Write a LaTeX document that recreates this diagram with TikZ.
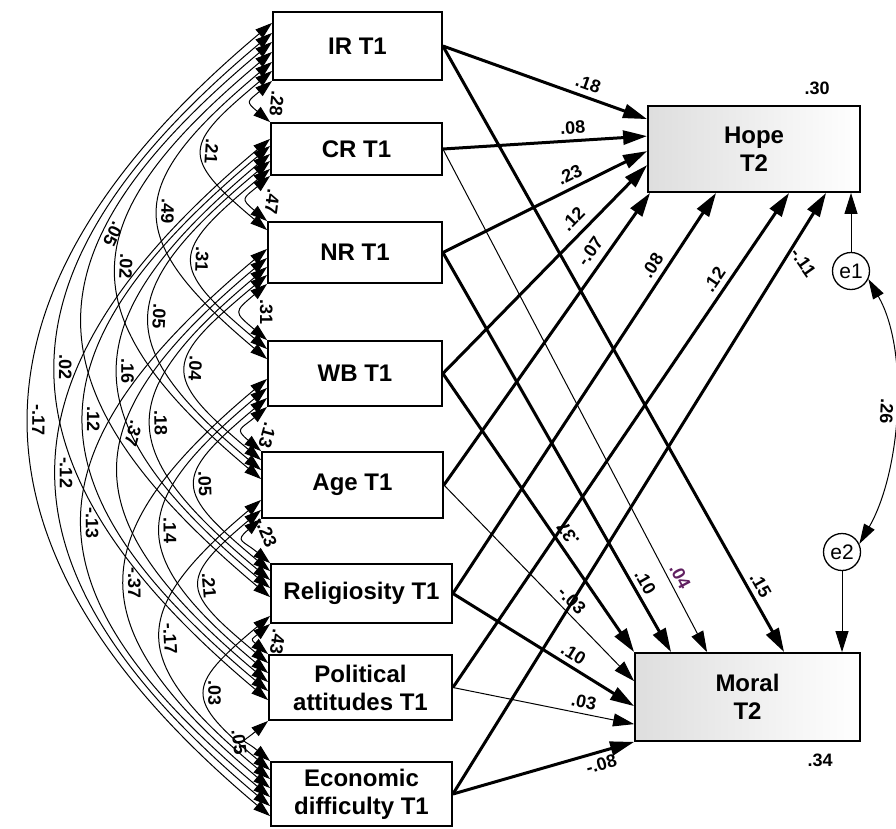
\documentclass[tikz,border=0pt]{standalone}
\usepackage{fontspec}
\setmainfont{Liberation Sans}
\usetikzlibrary{arrows.meta}
\definecolor{plum}{RGB}{96,32,96}

\begin{document}
\begin{tikzpicture}[x=1pt, y=1pt,
  pred/.style={draw=black, line width=1.8pt, fill=white, align=center, inner sep=0pt,
    font=\fontsize{24}{28}\selectfont\bfseries},
  outc/.style={pred, left color=black!13, right color=white},
  err/.style={circle, draw=black, line width=1.3pt, minimum size=37pt, inner sep=0pt,
    font=\fontsize{21}{21}\selectfont},
  reg/.style={line width=3pt, -{Triangle[length=24pt,width=14pt]}},
  regthin/.style={line width=1pt, -{Triangle[length=21pt,width=13pt]}},
  cov/.style={line width=1pt, {Triangle[length=17pt,width=11pt]}-{Triangle[length=17pt,width=11pt]}},
  covbig/.style={line width=1pt, {Triangle[length=20pt,width=12pt]}-{Triangle[length=20pt,width=12pt]}},
  bow/.style={out=220, in=140, looseness=#1},
  lab/.style={font=\fontsize{18}{20}\selectfont\bfseries, inner sep=1.5pt},
  covlab/.style={lab, midway, sloped, allow upside down, above}]
\useasboundingbox (0,0) rectangle (896,-828);

% predictors, T1
\node[pred, minimum width=169pt, minimum height=68pt] (ir) at (357.5,-46) {IR T1};
\node[pred, minimum width=171pt, minimum height=52pt] (cr) at (356.5,-149) {CR T1};
\node[pred, minimum width=174pt, minimum height=61pt] (nr) at (355,-252.5) {NR T1};
\node[pred, minimum width=174pt, minimum height=65pt] (wb) at (355,-373.5) {WB T1};
\node[pred, minimum width=181pt, minimum height=66pt] (age) at (352.5,-485) {Age T1};
\node[pred, minimum width=181pt, minimum height=59pt] (rel) at (361.5,-593.5) {Religiosity T1};
\node[pred, minimum width=183pt, minimum height=65pt] (pol) at (360.5,-687.5) {Political\\attitudes T1};
\node[pred, minimum width=181pt, minimum height=64pt] (econ) at (361.5,-794) {Economic\\difficulty T1};

% outcomes, T2
\node[outc, minimum width=212pt, minimum height=86pt] (hope) at (754,-149) {Hope\\T2};
\node[outc, minimum width=225pt, minimum height=88pt] (moral) at (747.5,-697) {Moral\\T2};
\node[lab] (r2hope) at (817,-88) {.30};
\node[lab] (r2moral) at (820,-760) {.34};

% residuals
\node[err] (e1) at (851,-271) {e1};
\node[err] (e2) at (842,-552) {e2};
\draw[regthin] (e1) -- (e1 |- hope.south);
\draw[regthin] (e2) -- (e2 |- moral.north);
\draw[covbig] (e1.-25) to[out=-60, in=60, looseness=.8]
  node[lab, midway, sloped, allow upside down, below] {.26} (e2.25);

% paths to Hope
\draw[reg] (ir.east) -- ([yshift=-14pt]hope.north west) node[lab, pos=.69, sloped, above=4pt] {.18};
\draw[reg] (cr.east) -- ([yshift=-31pt]hope.north west) node[lab, pos=.64, sloped, above=4pt] {.08};
\draw[reg] (nr.east) -- ([yshift=-46pt]hope.north west) node[lab, pos=.65, sloped, above=4pt] {.23};
\draw[reg] (wb.east) -- ([yshift=-60pt]hope.north west) node[lab, pos=.69, sloped, above=6pt] {.12};
\draw[reg] (age.east) -- ([xshift=3pt]hope.south west) node[lab, pos=.77, sloped, above=6pt] {-.07};
\draw[reg] (rel.east) -- ([xshift=69pt]hope.south west) node[lab, pos=.80, sloped, above=4pt] {.08};
\draw[reg] (pol.east) -- ([xshift=142pt]hope.south west) node[lab, pos=.81, sloped, above=4pt] {.12};
\draw[reg] (econ.east) -- ([xshift=179pt]hope.south west) node[lab, pos=.91, rotate=-55, right=1pt] {-.11};

% paths to Moral
\draw[reg] (ir.east) -- ([xshift=150pt]moral.north west) node[lab, pos=.9, sloped, above=3pt] {.15};
\draw[regthin] (cr.east) -- ([xshift=73pt]moral.north west) node[lab, pos=.86, sloped, above=3pt, text=plum] {.04};
\draw[reg] (nr.east) -- ([xshift=37pt]moral.north west) node[lab, pos=.84, sloped, above=3pt] {.10};
\draw[reg] (wb.east) -- (moral.north west) node[lab, pos=.6, sloped, allow upside down, rotate=180, below=3pt] {.37};
\draw[regthin] (age.east) -- ([yshift=-29pt]moral.north west) node[lab, pos=.63, sloped, above=3pt] {-.03};
\draw[reg] (rel.east) -- ([yshift=-54pt]moral.north west) node[lab, pos=.63, sloped, above=3pt] {.10};
\draw[regthin] (pol.east) -- ([yshift=-72pt]moral.north west) node[lab, pos=.71, sloped, above=3pt] {.03};
\draw[reg] (econ.east) -- (moral.south west) node[lab, pos=.8, sloped, below=3pt] {-.08};

% covariances among predictors
\draw[cov] (ir.south west) to[bow=2] node[covlab, above=16pt] {.28} (cr.north west);
\draw[cov] (cr.south west) to[bow=2] node[covlab, above=16pt] {.47} (nr.north west);
\draw[cov] (nr.south west) to[bow=2] node[covlab, above=16pt] {.31} (wb.north west);
\draw[cov] (wb.south west) to[bow=2] node[covlab, above=16pt] {.13} (age.north west);
\draw[cov] (age.south west) to[bow=2] node[covlab, above=14pt] {-.23} (rel.north west);
\draw[cov] (rel.south west) to[bow=2] node[covlab, above=14pt] {.43} (pol.north west);
\draw[cov] (pol.south west) to[bow=2.4] node[covlab, below] {.05} (econ.north west);

\draw[cov] ([yshift=10pt]ir.south west) to[bow=1.85] node[covlab] {.21} ([yshift=-9pt]nr.north west);
\draw[cov] ([yshift=7pt]cr.south west) to[bow=1.85] node[covlab] {.31} ([yshift=-9pt]wb.north west);
\draw[cov] ([yshift=9pt]nr.south west) to[bow=1.85] node[covlab] {.04} ([yshift=-9pt]age.north west);
\draw[cov] ([yshift=9pt]wb.south west) to[bow=1.85] node[covlab] {.05} ([yshift=-8pt]rel.north west);
\draw[cov] ([yshift=9pt]age.south west) to[bow=1.85] node[covlab] {.21} ([yshift=-9pt]pol.north west);
\draw[cov] ([yshift=8pt]rel.south west) to[bow=1.85] node[covlab] {.03} ([yshift=-9pt]econ.north west);

\draw[cov] ([yshift=19pt]ir.south west) to[bow=1.65] node[covlab] {.49} ([yshift=-19pt]wb.north west);
\draw[cov] ([yshift=15pt]cr.south west) to[bow=1.65] node[covlab] {.05} ([yshift=-19pt]age.north west);
\draw[cov] ([yshift=17pt]nr.south west) to[bow=1.65] node[covlab] {.18} ([yshift=-17pt]rel.north west);
\draw[cov] ([yshift=19pt]wb.south west) to[bow=1.65] node[covlab] {.14} ([yshift=-19pt]pol.north west);
\draw[cov] ([yshift=19pt]age.south west) to[bow=1.65] node[covlab] {-.17} ([yshift=-18pt]econ.north west);

\draw[cov] ([yshift=29pt]ir.south west) to[bow=1.55] node[covlab] {.02} ([yshift=-28pt]age.north west);
\draw[cov] ([yshift=22pt]cr.south west) to[bow=1.55] node[covlab] {.16} ([yshift=-25pt]rel.north west);
\draw[cov] ([yshift=26pt]nr.south west) to[bow=1.55] node[covlab, pos=.4] {.37} ([yshift=-28pt]pol.north west);
\draw[cov] ([yshift=28pt]wb.south west) to[bow=1.55] node[covlab] {-.37} ([yshift=-27pt]econ.north west);

\draw[cov] ([yshift=39pt]ir.south west) to[bow=1.5] node[covlab, pos=.33] {.05} ([yshift=-34pt]rel.north west);
\draw[cov] ([yshift=30pt]cr.south west) to[bow=1.5] node[covlab] {.12} ([yshift=-37pt]pol.north west);
\draw[cov] ([yshift=35pt]nr.south west) to[bow=1.5] node[covlab] {-.13} ([yshift=-36pt]econ.north west);

\draw[cov] ([yshift=48pt]ir.south west) to[bow=1.42] node[covlab] {.02} ([yshift=-46pt]pol.north west);
\draw[cov] ([yshift=37pt]cr.south west) to[bow=1.42] node[covlab] {-.12} ([yshift=-45pt]econ.north west);

\draw[cov] ([yshift=58pt]ir.south west) to[bow=1.35] node[covlab] {-.17} ([yshift=-55pt]econ.north west);
\end{tikzpicture}
\end{document}
